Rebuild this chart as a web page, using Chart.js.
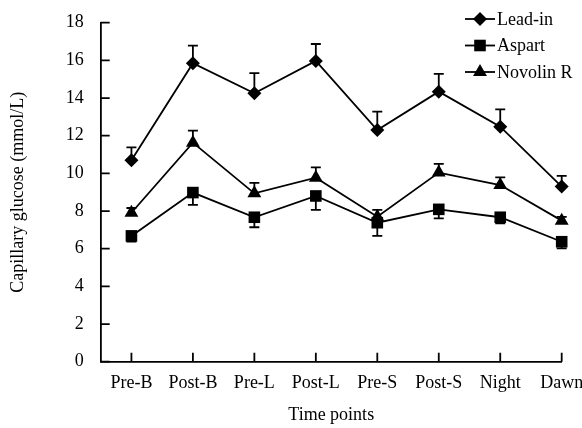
<!DOCTYPE html>
<html>
<head>
<meta charset="utf-8">
<script src="https://cdn.jsdelivr.net/npm/chart.js@4.4.1/dist/chart.umd.min.js"></script>
<style>
    html, body { margin: 0; padding: 0; background: #ffffff; }
    #wrap { width: 582px; height: 428px; }
</style>
</head>
<body>
<div id="wrap"><canvas id="glucoseChart"></canvas></div>
<script>
// Time points on the x axis
var timePoints = ['Pre-B', 'Post-B', 'Pre-L', 'Post-L', 'Pre-S', 'Post-S', 'Night', 'Dawn'];

// Mean capillary glucose (mmol/L) and error (SE) per series
var leadIn = [10.7, 15.85, 14.25, 15.97, 12.3, 14.34, 12.48, 9.3];
var leadInErr = [0.68, 0.93, 1.07, 0.9, 0.98, 0.94, 0.92, 0.57];
var aspart = [6.68, 8.98, 7.67, 8.8, 7.38, 8.09, 7.67, 6.37];
var aspartErr = [0.3, 0.65, 0.53, 0.74, 0.7, 0.48, 0.32, 0.35];
var novolin = [7.91, 11.63, 8.94, 9.77, 7.7, 10.04, 9.38, 7.49];
var novolinErr = [0.25, 0.64, 0.55, 0.55, 0.36, 0.46, 0.41, 0.2];

// y axis tick labels
var yTicks = [0, 2, 4, 6, 8, 10, 12, 14, 16, 18];

var FONT = 'Liberation Serif, Times New Roman, serif';
var LW = 1.8;

function toPoints(values) {
    return values.map(function (v, i) { return { x: i, y: v }; });
}

function makeSet(label, values, errors, errDir, style, radius) {
    return {
        label: label,
        data: toPoints(values),
        errors: errors,
        errDir: errDir, // 1 = bar goes up, -1 = bar goes down
        borderColor: '#000',
        backgroundColor: '#000',
        borderWidth: LW,
        pointStyle: style,
        pointRadius: radius,
        pointBorderWidth: 0,
        pointBackgroundColor: '#000',
        tension: 0,
        clip: false
    };
}

// Error bars: vertical whisker with a cap, one direction only
var errorBarPlugin = {
    id: 'errorBars',
    beforeDatasetsDraw: function (chart) {
        var ctx = chart.ctx;
        var xs = chart.scales.x, ys = chart.scales.y;
        ctx.save();
        ctx.strokeStyle = '#000';
        ctx.lineWidth = LW;
        chart.data.datasets.forEach(function (ds) {
            ds.data.forEach(function (p, i) {
                var px = xs.getPixelForValue(p.x);
                var py0 = ys.getPixelForValue(p.y);
                var py1 = ys.getPixelForValue(p.y + ds.errDir * ds.errors[i]);
                ctx.beginPath();
                ctx.moveTo(px, py0);
                ctx.lineTo(px, py1);
                ctx.moveTo(px - 5, py1);
                ctx.lineTo(px + 5, py1);
                ctx.stroke();
            });
        });
        ctx.restore();
    }
};

// Inward tick marks on both axes
var innerTicksPlugin = {
    id: 'innerTicks',
    afterDraw: function (chart) {
        var ctx = chart.ctx;
        var xs = chart.scales.x, ys = chart.scales.y;
        var area = chart.chartArea;
        ctx.save();
        ctx.strokeStyle = '#000';
        ctx.lineWidth = LW;
        ctx.beginPath();
        ys.ticks.forEach(function (t) {
            var py = ys.getPixelForValue(t.value);
            ctx.moveTo(area.left, py);
            ctx.lineTo(area.left + 9, py);
        });
        xs.ticks.forEach(function (t) {
            var px = xs.getPixelForValue(t.value);
            ctx.moveTo(px, area.bottom);
            ctx.lineTo(px, area.bottom - 9);
        });
        ctx.stroke();
        ctx.restore();
    }
};

// Legend drawn inside the plot, top right
var lineLegendPlugin = {
    id: 'lineLegend',
    afterDraw: function (chart) {
        var ctx = chart.ctx;
        var x0 = 465, x1 = 495, rowY = [19, 45.5, 72];
        ctx.save();
        ctx.font = '18px ' + FONT;
        ctx.textBaseline = 'middle';
        ctx.fillStyle = '#000';
        chart.data.datasets.forEach(function (ds, i) {
            var y = rowY[i];
            ctx.strokeStyle = '#000';
            ctx.lineWidth = LW;
            ctx.beginPath();
            ctx.moveTo(x0, y);
            ctx.lineTo(x1, y);
            ctx.stroke();
            Chart.helpers.drawPoint(ctx, {
                pointStyle: ds.pointStyle,
                radius: ds.pointRadius,
                rotation: 0,
                borderWidth: 0
            }, (x0 + x1) / 2, y);
            ctx.fillText(ds.label, x1 + 2, y + 1);
        });
        ctx.restore();
    }
};

var glucoseChart = new Chart(document.getElementById('glucoseChart'), {
    type: 'line',
    data: {
        datasets: [
            makeSet('Lead-in', leadIn, leadInErr, 1, 'rectRot', 7),
            makeSet('Aspart', aspart, aspartErr, -1, 'rect', 8.2),
            makeSet('Novolin R', novolin, novolinErr, 1, 'triangle', 8)
        ]
    },
    options: {
        responsive: true,
        maintainAspectRatio: false,
        animation: false,
        devicePixelRatio: 1,
        layout: { padding: { top: 22.7, right: 20.3, left: 0, bottom: 0 } },
        plugins: {
            legend: { display: false },
            tooltip: { enabled: false }
        },
        scales: {
            x: {
                type: 'linear',
                min: -0.5,
                max: 7,
                afterBuildTicks: function (scale) {
                    scale.ticks = timePoints.map(function (n, i) { return { value: i }; });
                },
                afterFit: function (scale) {
                    scale.height = 66.3;
                    // keep the last label from squeezing the plot area
                    scale.paddingLeft = 0;
                    scale.paddingRight = 0;
                },
                grid: { display: false, drawTicks: false },
                border: { display: true, color: '#000', width: LW },
                ticks: {
                    color: '#000',
                    font: { family: FONT, size: 18 },
                    padding: 11,
                    maxRotation: 0,
                    autoSkip: false,
                    callback: function (value) { return timePoints[value]; }
                },
                title: {
                    display: true,
                    text: 'Time points',
                    color: '#000',
                    font: { family: FONT, size: 18 },
                    padding: { top: 0, bottom: 2 }
                }
            },
            y: {
                min: 0,
                max: 18,
                afterBuildTicks: function (scale) {
                    scale.ticks = yTicks.map(function (v) { return { value: v }; });
                },
                afterFit: function (scale) {
                    scale.width = 100.7;
                    scale.paddingTop = 0;
                    scale.paddingBottom = 0;
                },
                grid: { display: false, drawTicks: false },
                border: { display: true, color: '#000', width: LW },
                ticks: {
                    color: '#000',
                    font: { family: FONT, size: 18 },
                    padding: 17
                },
                title: {
                    display: true,
                    text: 'Capillary glucose (mmol/L)',
                    color: '#000',
                    font: { family: FONT, size: 18 },
                    padding: { top: 7, bottom: 0 }
                }
            }
        }
    },
    plugins: [errorBarPlugin, innerTicksPlugin, lineLegendPlugin]
});
</script>
</body>
</html>
